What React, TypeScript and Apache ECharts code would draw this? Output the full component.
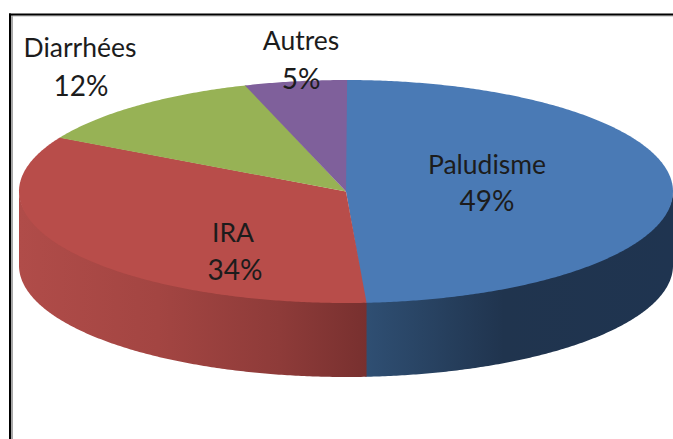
import React, { useEffect, useRef } from "react";
import * as echarts from "echarts";

const categories = ["Paludisme", "IRA", "Diarrhées", "Autres"];
const shares = [49, 34, 12, 5];
const topColors = ["#4a7ab5", "#b84d4a", "#97b255", "#7f609b"];

const CX = 346, CY = 191.5, RX = 327, RY = 111.5, DEPTH = 74;
const FONT = "Lato, 'Noto Sans', sans-serif";
const labelAnchors = [
  { name: [487, 164], pct: [487, 200] },
  { name: [233, 232], pct: [235, 269] },
  { name: [80, 47], pct: [81, 85] },
  { name: [301, 40], pct: [301, 78] },
];

const total = shares.reduce((a, b) => a + b, 0);
const pt = (deg: number) => {
  const r = (deg * Math.PI) / 180;
  return [CX + RX * Math.sin(r), CY - RY * Math.cos(r)];
};
const angleRange = (i: number) => {
  const before = shares.slice(0, i).reduce((a, b) => a + b, 0);
  return [(before / total) * 360, ((before + shares[i]) / total) * 360];
};
const arcPoints = (from: number, to: number) => {
  const steps = Math.max(2, Math.ceil((to - from) * 2));
  const out: number[][] = [];
  for (let s = 0; s <= steps; s++) out.push(pt(from + ((to - from) * s) / steps));
  return out;
};

const wallGradients: Record<number, any> = {
  0: [
    { offset: 0, color: "#2f4f73" },
    { offset: 0.45, color: "#20344e" },
    { offset: 1, color: "#1f3450" },
  ],
  1: [
    { offset: 0, color: "#b04c49" },
    { offset: 0.4, color: "#a34542" },
    { offset: 0.75, color: "#8e3b39" },
    { offset: 1, color: "#78302f" },
  ],
};

function renderSlice(params: any, api: any) {
  const i = params.dataIndex;
  const [a0, a1] = angleRange(i);
  const children: any[] = [];
  const overlap = 0.2;

  // Side wall: the part of the slice's rim that faces the viewer
  const w0 = Math.max(a0, 90);
  const w1 = Math.min(a1 + overlap, 270);
  if (w1 > w0) {
    const rim = arcPoints(w0, w1);
    const upper = rim.map(([x, y]) => [x, y - 1.5]);
    const lower = rim.map(([x, y]) => [x, y + DEPTH]).reverse();
    children.push({
      type: "polygon",
      z2: 1 + i,
      shape: { points: [...upper, ...lower] },
      style: {
        fill: new echarts.graphic.LinearGradient(0, 0, 1, 0, wallGradients[i]),
      },
    });
  }

  // Top face
  children.push({
    type: "polygon",
    z2: 5 + i,
    shape: { points: [[CX, CY], ...arcPoints(a0, a1 + overlap)] },
    style: { fill: topColors[i] },
  });
  return { type: "group", children };
}

function renderLabel(params: any, api: any) {
  const i = params.dataIndex;
  const anchor = labelAnchors[i];
  const common = {
    fill: "#1c1c1c",
    align: "center",
    verticalAlign: "middle",
  };
  return {
    type: "group",
    children: [
      { type: "text", z2: 20, style: { ...common, font: `26.5px ${FONT}`, text: categories[i], x: anchor.name[0], y: anchor.name[1] } },
      { type: "text", z2: 20, style: { ...common, font: `28px ${FONT}`, text: `${api.value(0)}%`, x: anchor.pct[0], y: anchor.pct[1] } },
    ],
  };
}

export default function App() {
  const ref = useRef<HTMLDivElement>(null);
  useEffect(() => {
    const chart = echarts.init(ref.current!, null, { renderer: "svg" });
    chart.setOption({
      animation: false,
      backgroundColor: "#ffffff",
      tooltip: { show: false },
      graphic: [
        { type: "line", z: 0, shape: { x1: 12, y1: 14, x2: 12, y2: 439 }, style: { stroke: "#a8a8a8", lineWidth: 2 } },
        { type: "line", z: 0, shape: { x1: 10, y1: 16, x2: 673, y2: 16 }, style: { stroke: "#b8b8b8", lineWidth: 1 } },
        { type: "line", z: 0, shape: { x1: 10, y1: 13.5, x2: 10, y2: 439 }, style: { stroke: "#000000", lineWidth: 2 } },
        { type: "line", z: 0, shape: { x1: 9, y1: 14.5, x2: 673, y2: 14.5 }, style: { stroke: "#000000", lineWidth: 2 } },
      ],
      series: [
        {
          type: "custom",
          coordinateSystem: "none",
          silent: true,
          z: 2,
          data: shares.map((v) => [v]),
          renderItem: renderSlice,
        },
        {
          type: "custom",
          coordinateSystem: "none",
          silent: true,
          z: 5,
          data: shares.map((v) => [v]),
          renderItem: renderLabel,
        },
      ],
    });
    return () => chart.dispose();
  }, []);
  return (
    <div
      ref={ref}
      style={{ position: "absolute", left: 0, top: 0, width: 673, height: 439 }}
    />
  );
}
